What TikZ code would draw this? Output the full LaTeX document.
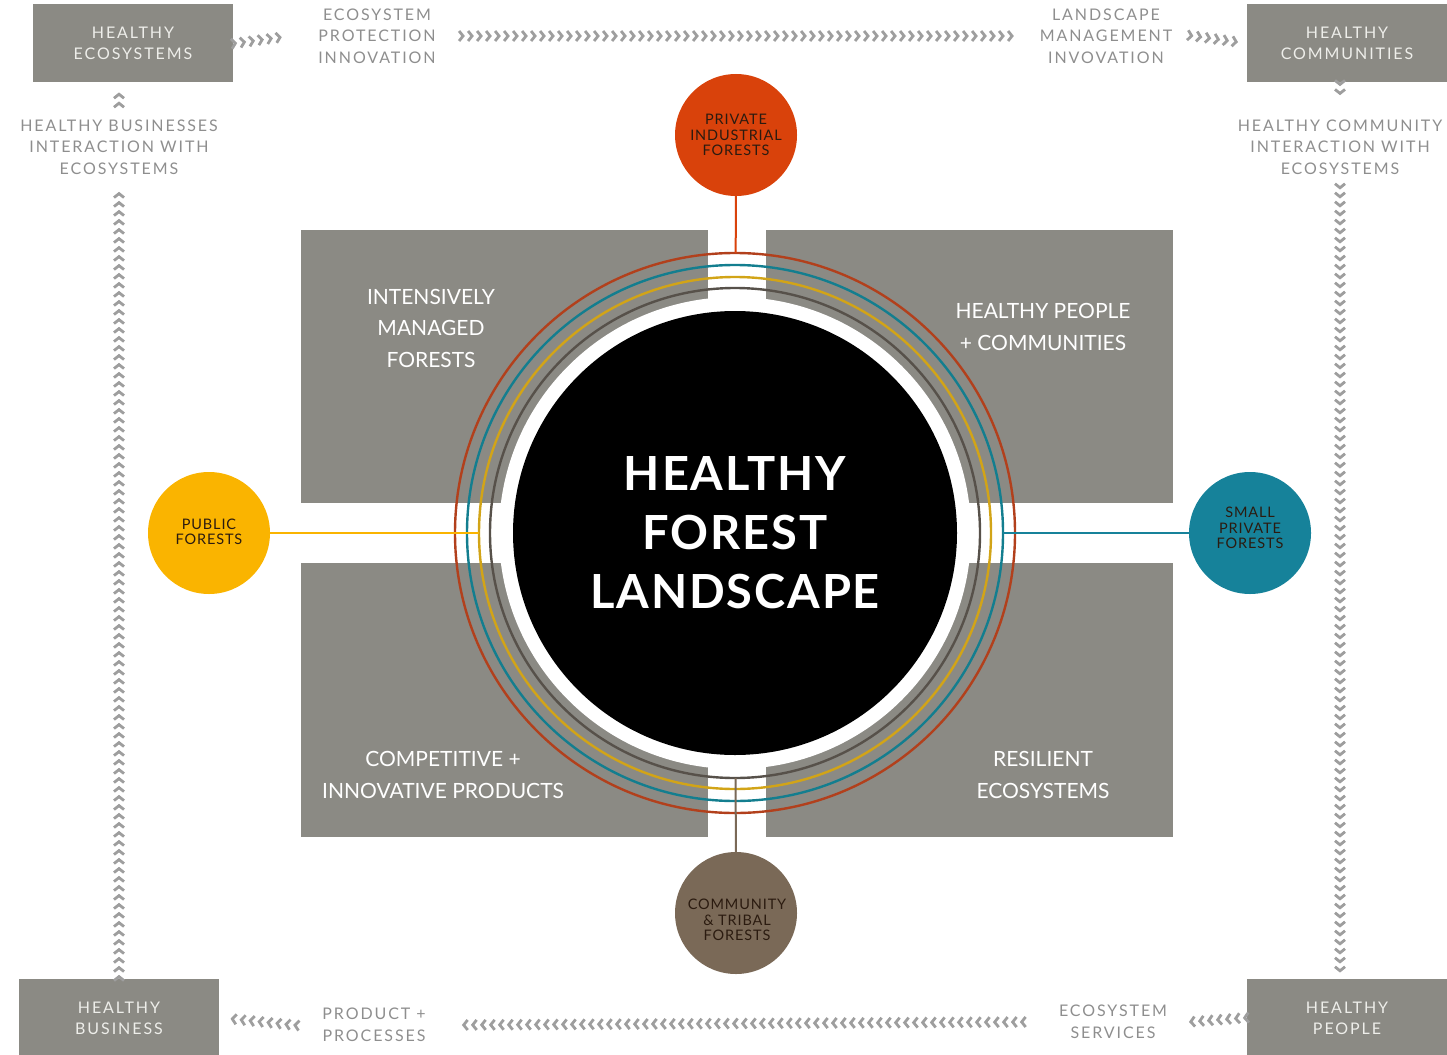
\documentclass[tikz,border=0pt]{standalone}
\usepackage{fontspec}
\setmainfont{Lato}
\newfontfamily\labfont{Lato}[LetterSpace=12]
\newfontfamily\dotfont{Lato}[LetterSpace=6]
\newfontfamily\hflfont{Lato}[LetterSpace=4]
\usetikzlibrary{positioning, arrows.meta, decorations.markings}

\definecolor{boxgray}{HTML}{8B8A84}
\definecolor{boxtext}{HTML}{EEEEEA}
\definecolor{labgray}{HTML}{8E8E8E}
\definecolor{chevgray}{HTML}{9E9E9E}
\definecolor{pifcol}{HTML}{D9420B}
\definecolor{pubcol}{HTML}{FAB400}
\definecolor{spfcol}{HTML}{16829A}
\definecolor{ctfcol}{HTML}{7A6957}
\definecolor{ringred}{HTML}{B2401C}
\definecolor{ringteal}{HTML}{137E8F}
\definecolor{ringgold}{HTML}{D2A417}
\definecolor{ringdark}{HTML}{57514A}
\definecolor{dottext}{HTML}{2B1B10}

\begin{document}
\begin{tikzpicture}[x=1pt,y=-1pt,
    bigbox/.style={rectangle, fill=boxgray, minimum width=200pt, minimum height=78pt, inner sep=0pt,
        text=boxtext, align=center, font=\labfont\fontsize{16}{21}\selectfont},
    lab/.style={text=labgray, align=center, inner sep=1pt, font=\labfont\fontsize{16}{21.5}\selectfont},
    forest/.style={circle, minimum size=122pt, inner sep=0pt, text=dottext, align=center,
        font=\dotfont\fontsize{14.5}{15.5}\selectfont},
    quad/.style={text=white, align=center, font=\fontsize{21}{31.5}\selectfont},
    chev/.style={chevgray, decoration={markings, mark=between positions 0 and 1 step 9pt with
        {\arrow[chevgray]{Straight Barb[length=4pt, width=10pt, line width=2.8pt]}}}, postaction={decorate}},
    ring/.style={line width=2.4pt}
]
\useasboundingbox (0,0) rectangle (1447,1054);

% quadrants
\fill[boxgray] (301,230) rectangle (708,503);
\fill[boxgray] (766,230) rectangle (1173,503);
\fill[boxgray] (301,563) rectangle (708,837);
\fill[boxgray] (766,563) rectangle (1173,837);
\node[quad] (imf) at (431,328) {INTENSIVELY\\MANAGED\\FORESTS};
\node[quad] (hpc) at (1043,327) {HEALTHY PEOPLE\\+ COMMUNITIES};
\node[quad] (cip) at (443,775) {COMPETITIVE +\\INNOVATIVE PRODUCTS};
\node[quad] (res) at (1043,775) {RESILIENT\\ECOSYSTEMS};

% centre
\coordinate (hub) at (735,533);
\fill[white] (hub) circle (236pt);
\node[circle, fill=black, minimum size=444pt, inner sep=0pt, text=white, align=center,
    font=\hflfont\bfseries\fontsize{47}{59}\selectfont] (hfl) at (hub) {HEALTHY\\FOREST\\LANDSCAPE};
\draw[ring, ringdark] (hub) circle (245pt);
\draw[ring, ringgold] (hub) circle (256pt);
\draw[ring, ringteal] (hub) circle (268pt);
\draw[ring, ringred]  (hub) circle (280pt);

% forest types
\node[forest, fill=pifcol] (pif) at (736,135) {PRIVATE\\INDUSTRIAL\\FORESTS};
\node[forest, fill=pubcol] (pub) at (209,533) {\raisebox{3pt}{PUBLIC}\\\raisebox{3pt}{FORESTS}};
\node[forest, fill=spfcol] (spf) at (1250,533) {};
\node[forest, fill=ctfcol] (ctf) at (736,913) {};
\node[forest, minimum size=0pt] (spftext) at (1250,528) {SMALL\\PRIVATE\\FORESTS};
\node[forest, minimum size=0pt] (ctftext) at (737,920) {COMMUNITY\\\& TRIBAL\\FORESTS};
\draw[line width=2pt, pifcol, shorten >=58pt] (pif) -- (hfl);
\draw[line width=2pt, pubcol, shorten >=34pt] (pub) -- (hfl);
\draw[line width=2pt, spfcol, shorten >=46pt] (spf) -- (hfl);
\draw[line width=2pt, ctfcol, shorten >=23pt] (ctf) -- (hfl);

% outer loop
\node[bigbox] (hecos) at (133,43) {HEALTHY\\ECOSYSTEMS};
\node[bigbox] (hcomm) at (1347,43) {HEALTHY\\COMMUNITIES};
\node[bigbox] (hbus) at (119,1018) {HEALTHY\\BUSINESS};
\node[bigbox] (hppl) at (1347,1018) {HEALTHY\\PEOPLE};

\node[lab] (prot) at (377,36) {ECOSYSTEM\\PROTECTION\\INNOVATION};
\node[lab] (land) at (1106,36) {LANDSCAPE\\MANAGEMENT\\INVOVATION};
\node[lab] (hbi) at (119,147) {HEALTHY BUSINESSES\\INTERACTION WITH\\ECOSYSTEMS};
\node[lab] (hci) at (1340,147) {HEALTHY COMMUNITY\\INTERACTION WITH\\ECOSYSTEMS};
\node[lab] (prodp) at (374,1025) {PRODUCT +\\PROCESSES};
\node[lab] (ecoserv) at (1113,1022) {ECOSYSTEM\\SERVICES};

\coordinate (hecosfoot) at (hecos.south -| hbi.north);
\coordinate (hcommfoot) at (hcomm.south -| hci.north);
\coordinate (hpplhead) at (hppl.north -| hci.south);

\path[chev] ([xshift=4pt]hecos.east) -- ([xshift=-27pt]prot.west);
\path[chev] ([xshift=28pt]prot.east) -- ([xshift=-18pt]land.west);
\path[chev] ([xshift=20pt]land.east) -- ([xshift=-2pt]hcomm.west);
\path[chev] ([yshift=-4pt]hcommfoot) -- ([yshift=17pt]hci.north);
\path[chev] ([yshift=-14pt]hci.south) -- ([yshift=4pt]hpplhead);
\path[chev] ([xshift=-4pt]hppl.west) -- ([xshift=20pt]ecoserv.east);
\path[chev] ([xshift=-38pt]ecoserv.west) -- ([xshift=33pt]prodp.east);
\path[chev] ([xshift=-28pt]prodp.west) -- ([xshift=4pt]hbus.east);
\path[chev] ([yshift=4pt]hbus.north) -- ([yshift=-14pt]hbi.south);
\path[chev] ([yshift=17pt]hbi.north) -- ([yshift=-4pt]hecosfoot);
\end{tikzpicture}
\end{document}
